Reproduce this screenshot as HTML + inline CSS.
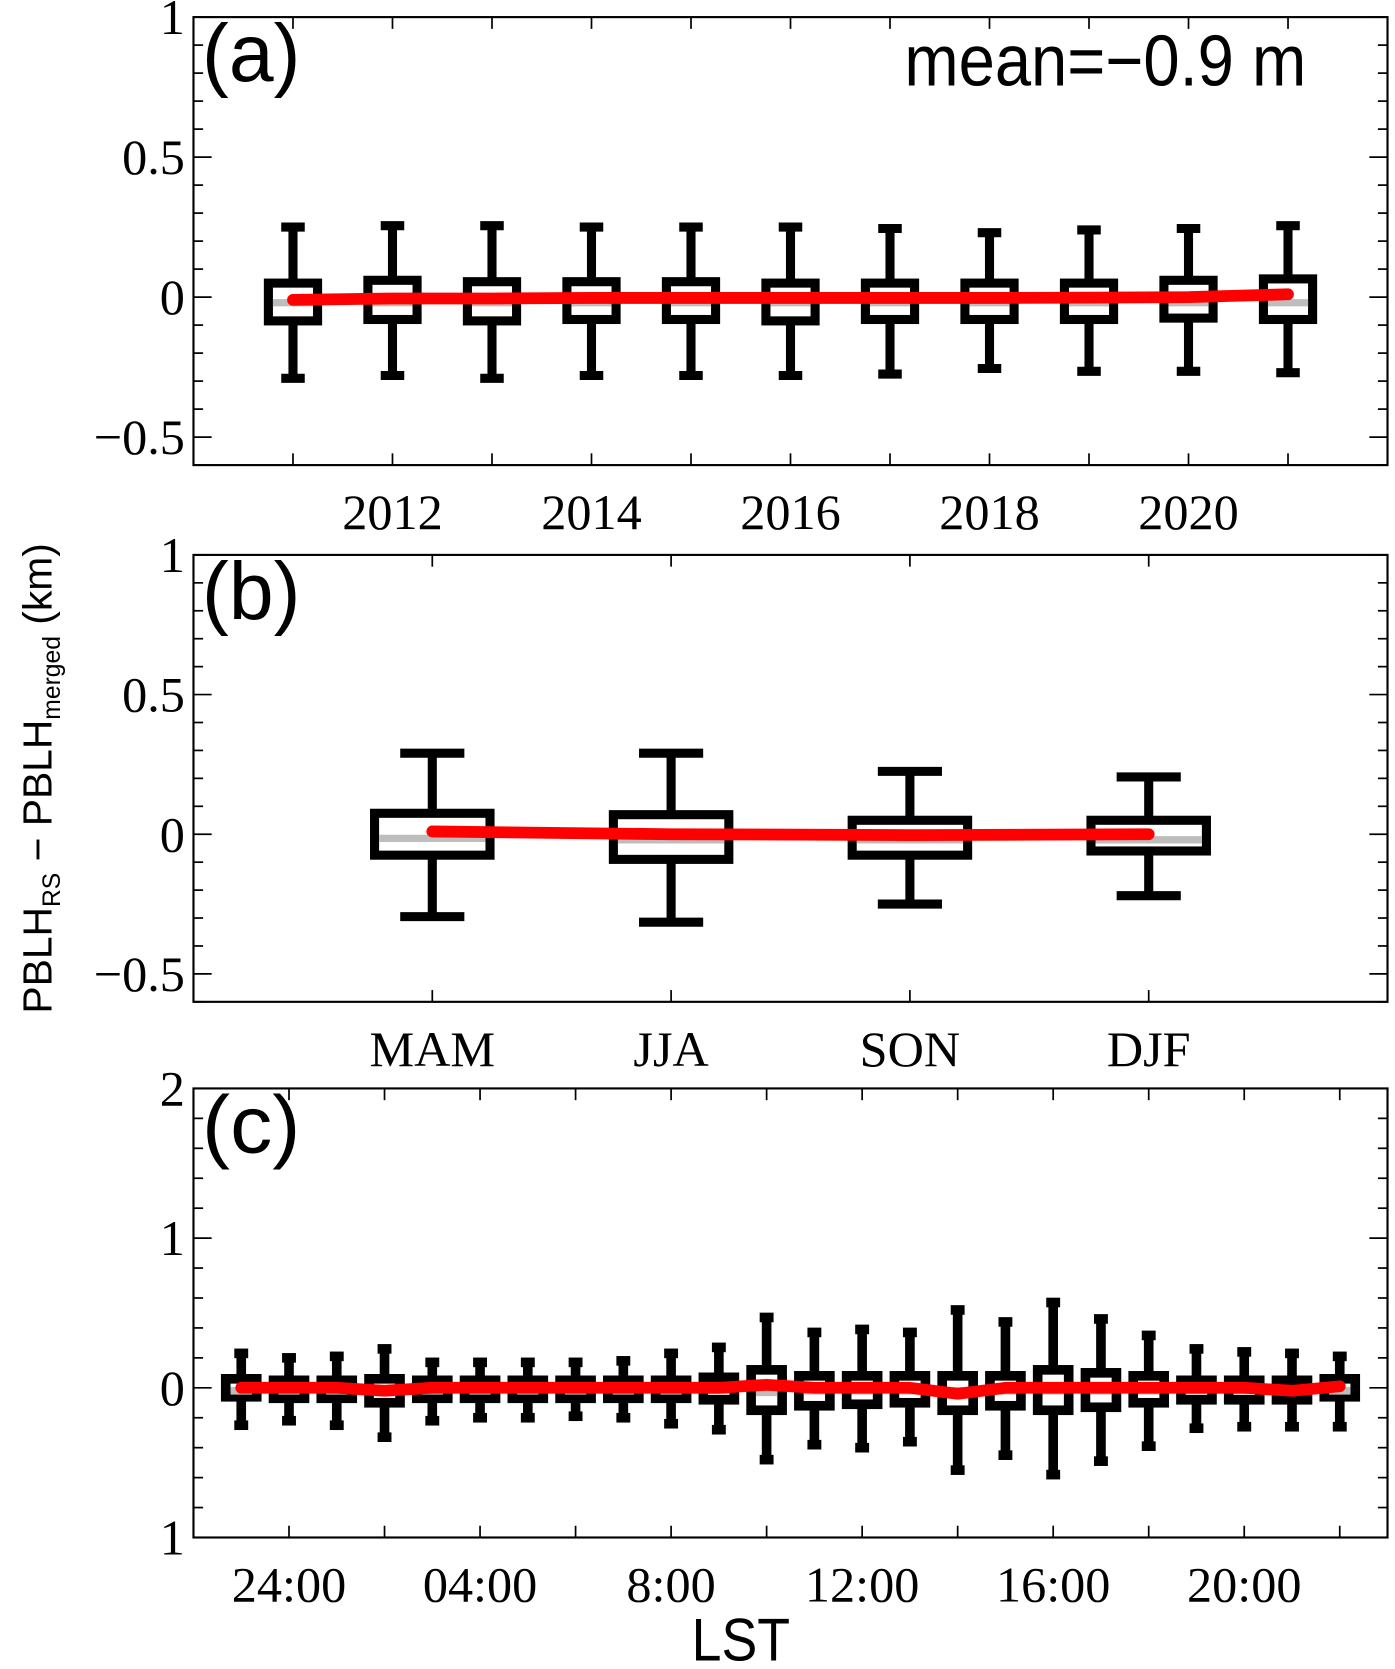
<!DOCTYPE html>
<html><head><meta charset="utf-8"><style>
html,body{margin:0;padding:0;background:#fff}
svg{display:block}
.tk{font-family:"Liberation Serif",serif;font-size:47px;fill:#000}
.pl{font-family:"Liberation Sans",sans-serif;fill:#000}
</style></head><body>
<svg id="fig" width="1395" height="1669" viewBox="0 0 1305 1561" preserveAspectRatio="none" xmlns="http://www.w3.org/2000/svg">
<text class="pl" transform="translate(48,728) rotate(-90)" text-anchor="middle" font-size="38" textLength="440" lengthAdjust="spacingAndGlyphs">PBLH<tspan font-size="23" dy="8">RS</tspan><tspan dy="-8"> − PBLH</tspan><tspan font-size="23" dy="8">merged</tspan><tspan dy="-8"> (km)</tspan></text>
<text class="pl" x="693" y="1553" text-anchor="middle" font-size="56" textLength="92" lengthAdjust="spacingAndGlyphs">LST</text>
</svg>
<script>
// Panel a: yearly
const yearCats=[2011,2012,2013,2014,2015,2016,2017,2018,2019,2020,2021];
const aWhiskTop=[0.25,0.255,0.255,0.25,0.25,0.25,0.245,0.23,0.24,0.245,0.255];
const aWhiskBot=[-0.29,-0.28,-0.29,-0.28,-0.28,-0.28,-0.275,-0.255,-0.265,-0.265,-0.27];
const aQ3=[0.05,0.06,0.055,0.055,0.055,0.05,0.05,0.05,0.05,0.06,0.065];
const aQ1=[-0.085,-0.08,-0.085,-0.08,-0.08,-0.085,-0.08,-0.08,-0.08,-0.075,-0.08];
const aMedian=[-0.02,-0.02,-0.02,-0.02,-0.02,-0.02,-0.02,-0.02,-0.02,-0.02,-0.02];
const aMean=[-0.01,-0.005,-0.005,-0.003,-0.003,-0.003,-0.003,-0.003,-0.002,0.0,0.01];
const aTickLabels=["2012","2014","2016","2018","2020"];
const aTickVals=[2012,2014,2016,2018,2020];
// Panel b: seasonal
const seasonCats=["MAM","JJA","SON","DJF"];
const bWhiskTop=[0.29,0.29,0.225,0.205];
const bWhiskBot=[-0.295,-0.315,-0.25,-0.22];
const bQ3=[0.075,0.07,0.05,0.05];
const bQ1=[-0.075,-0.09,-0.075,-0.06];
const bMedian=[-0.015,-0.02,-0.02,-0.02];
const bMean=[0.01,0.0,-0.003,0.0];
// Panel c: hourly
const hourCats=[-1,0,1,2,3,4,5,6,7,8,9,10,11,12,13,14,15,16,17,18,19,20,21,22];
const cWhiskTop=[0.23,0.2,0.21,0.26,0.17,0.17,0.17,0.17,0.18,0.23,0.27,0.47,0.37,0.39,0.37,0.52,0.44,0.57,0.46,0.35,0.26,0.24,0.23,0.21];
const cWhiskBot=[-0.25,-0.22,-0.25,-0.33,-0.22,-0.2,-0.2,-0.19,-0.2,-0.24,-0.28,-0.48,-0.38,-0.4,-0.36,-0.55,-0.45,-0.58,-0.49,-0.39,-0.27,-0.26,-0.26,-0.26];
const cQ3=[0.06,0.05,0.05,0.06,0.05,0.05,0.05,0.05,0.05,0.05,0.07,0.12,0.08,0.08,0.08,0.08,0.08,0.12,0.1,0.08,0.05,0.05,0.05,0.06];
const cQ1=[-0.06,-0.07,-0.07,-0.1,-0.07,-0.07,-0.07,-0.07,-0.07,-0.07,-0.08,-0.15,-0.12,-0.11,-0.1,-0.15,-0.12,-0.15,-0.13,-0.1,-0.08,-0.08,-0.08,-0.06];
const cMedian=[-0.02,-0.02,-0.02,-0.02,-0.02,-0.02,-0.02,-0.02,-0.02,-0.02,-0.02,-0.03,-0.02,-0.02,-0.02,-0.02,-0.02,-0.02,-0.02,-0.02,-0.02,-0.02,-0.02,-0.02];
const cMean=[0.0,0.0,0.0,-0.02,0.0,0.0,0.0,0.0,0.0,0.0,0.0,0.02,0.0,0.0,0.0,-0.04,0.0,0.0,0.0,0.0,0.0,0.0,-0.02,0.01];
const cTickLabels=["24:00","04:00","8:00","12:00","16:00","20:00"];
const cTickVals=[0,4,8,12,16,20];
const yTickLabelsAB=["−0.5","0","0.5","1"];
const yTickValsAB=[-0.5,0,0.5,1];
const yTickLabelsC=["1","0","1","2"];
const yTickValsC=[-1,0,1,2];

const NS="http://www.w3.org/2000/svg";
const svg=document.getElementById('fig');
function mk(tag,attrs,parent){const e=document.createElementNS(NS,tag);for(const k in attrs)e.setAttribute(k,attrs[k]);(parent||svg).appendChild(e);return e;}

function panel(o){
  const g=mk('g',{});
  
  
  const X=v=>o.L+(v-o.x0)/(o.x1-o.x0)*(o.R-o.L);
  const Y=v=>o.B-(v-o.y0)/(o.y1-o.y0)*(o.B-o.T);
  const fr=mk('rect',{x:o.L,y:o.T,width:o.R-o.L,height:o.B-o.T,fill:'none',stroke:'#000','stroke-width':2},g);
  
  
  const nMin=Math.round((o.y1-o.y0)/o.minor);
  for(let i=0;i<=nMin;i++){
    const v=o.y0+i*o.minor;const y=Y(v);
    const major=Math.abs(v/o.major-Math.round(v/o.major))<1e-6;
    const len=major?17:9;
    mk('line',{x1:o.L,x2:o.L+len,y1:y,y2:y,stroke:'#000','stroke-width':1.6},g);
    mk('line',{x1:o.R,x2:o.R-len,y1:y,y2:y,stroke:'#000','stroke-width':1.6},g);
  }
  o.yVals.forEach((v,i)=>{
    const t=mk('text',{x:o.L-8,y:Y(v)+16,'text-anchor':'end',class:'tk'},g);
    t.textContent=o.yLabels[i];
    
    
  });
  o.xTicks.forEach(v=>{
    const x=X(v);
    mk('line',{x1:x,x2:x,y1:o.B,y2:o.B-11,stroke:'#000','stroke-width':1.6},g);
    mk('line',{x1:x,x2:x,y1:o.T,y2:o.T+11,stroke:'#000','stroke-width':1.6},g);
  });
  o.xVals.forEach((v,i)=>{
    const t=mk('text',{x:X(v),y:o.B+60,'text-anchor':'middle',class:'tk'},g);
    t.textContent=o.xLabels[i];
    
    
  });
  o.cats.forEach((c,i)=>{
    const x=X(o.xs[i]);const hw=o.bw/2;
    const bg=mk('g',{},g);
    
    
    const yt=Y(o.q3[i]),yb=Y(o.q1[i]);
    mk('line',{x1:x,x2:x,y1:Y(o.wt[i]),y2:yt,stroke:'#000','stroke-width':o.sw},bg);
    mk('line',{x1:x,x2:x,y1:Y(o.wb[i]),y2:yb,stroke:'#000','stroke-width':o.sw},bg);
    mk('line',{x1:x-o.cw/2,x2:x+o.cw/2,y1:Y(o.wt[i]),y2:Y(o.wt[i]),stroke:'#000','stroke-width':o.sw},bg);
    mk('line',{x1:x-o.cw/2,x2:x+o.cw/2,y1:Y(o.wb[i]),y2:Y(o.wb[i]),stroke:'#000','stroke-width':o.sw},bg);
    mk('rect',{x:x-hw,y:yt,width:o.bw,height:yb-yt,fill:'#fff',stroke:'#000','stroke-width':o.sw},bg);
    mk('line',{x1:x-hw+o.sw/2,x2:x+hw-o.sw/2,y1:Y(o.med[i]),y2:Y(o.med[i]),stroke:'#bdbdbd','stroke-width':o.sw*0.8},bg);
  });
  const pts=o.cats.map((c,i)=>X(o.xs[i])+','+Y(o.mean[i])).join(' ');
  const pl=mk('polyline',{points:pts,fill:'none',stroke:'#ff0000','stroke-width':o.rw,'stroke-linejoin':'round','stroke-linecap':'round'},g);
  
  
  const lab=mk('text',{x:o.L+8,y:o.T+60,class:'pl','font-size':76,textLength:92,lengthAdjust:'spacingAndGlyphs'},g);
  lab.textContent=o.label;
  
  
  return g;
}
const yrTicks=[];for(let y=2011;y<=2021;y++)yrTicks.push(y);
panel({name:'panel-a-yearly',L:181,R:1298,T:16,B:435,x0:2010,x1:2022,y0:-0.6,y1:1.0,minor:0.1,major:0.5,
  yVals:yTickValsAB,yLabels:yTickLabelsAB,xTicks:yrTicks,xVals:aTickVals,xLabels:aTickLabels,
  cats:yearCats,xs:yearCats,wt:aWhiskTop,wb:aWhiskBot,q3:aQ3,q1:aQ1,med:aMedian,mean:aMean,bw:46,cw:22,sw:8.5,rw:11,label:'(a)'});
const mt=mk('text',{x:1222,y:80,'text-anchor':'end',class:'pl','font-size':68,textLength:376,lengthAdjust:'spacingAndGlyphs'});
mt.textContent='mean=−0.9 m';


panel({name:'panel-b-seasonal',L:181,R:1298,T:519,B:937,x0:0,x1:5,y0:-0.6,y1:1.0,minor:0.1,major:0.5,
  yVals:yTickValsAB,yLabels:yTickLabelsAB,xTicks:[1,2,3,4],xVals:[1,2,3,4],xLabels:seasonCats,
  cats:seasonCats,xs:[1,2,3,4],wt:bWhiskTop,wb:bWhiskBot,q3:bQ3,q1:bQ1,med:bMedian,mean:bMean,bw:108,cw:60,sw:8.5,rw:11,label:'(b)'});
const hTicks=[];for(let h=-2;h<=22;h+=2)hTicks.push(h);
panel({name:'panel-c-hourly',L:181,R:1298,T:1018,B:1438,x0:-2,x1:23,y0:-1,y1:2,minor:0.2,major:1,
  yVals:yTickValsC,yLabels:yTickLabelsC,xTicks:hTicks.filter(h=>h>-2),xVals:cTickVals,xLabels:cTickLabels,
  cats:hourCats,xs:hourCats,wt:cWhiskTop,wb:cWhiskBot,q3:cQ3,q1:cQ1,med:cMedian,mean:cMean,bw:29,cw:13,sw:9,rw:11,label:'(c)'});
</script>
</body></html>
